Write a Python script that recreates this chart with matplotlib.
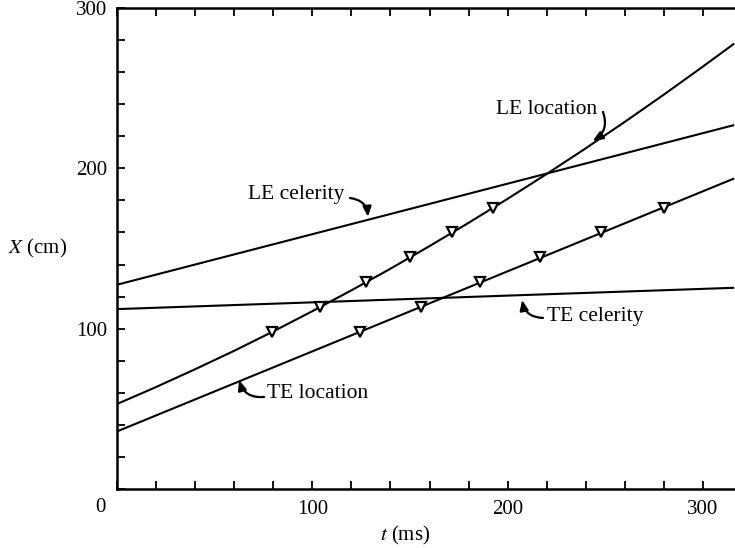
import matplotlib
matplotlib.use("Agg")
import matplotlib.pyplot as plt
from matplotlib.ticker import MultipleLocator, FuncFormatter

plt.rcParams["font.family"] = ["Liberation Serif", "DejaVu Serif"]
plt.rcParams["mathtext.fontset"] = "stix"

# celerity lines and TE location: straight fits, X (cm) at the ends of the span
t_span = [0, 316]
le_celerity = [127.4, 227.0]
te_celerity = [112.2, 125.5]
te_location = [35.9, 193.7]

# LE location: curved trajectory (accelerating leading edge)
le_loc_t = [0, 20, 40, 60, 80, 100, 120, 140, 160, 180, 200, 220, 240, 260, 280, 300, 316]
le_loc_x = [53.0, 63.6, 74.7, 86.2, 98.3, 110.9, 123.9, 137.4, 151.5, 166.0,
            181.0, 196.5, 212.5, 229.0, 246.0, 263.5, 277.8]

# probe stations (cm) and arrival times (ms) of the leading and trailing edges
stations = [98, 113.5, 129, 144.5, 160, 175.5]
le_arrival = [79.5, 104, 127.5, 150, 171.5, 192.5]
te_arrival = [124.4, 155.7, 186, 216.7, 248, 280]

x_labels = [100, 200, 300]
y_labels = [100, 200, 300]

fig = plt.figure(figsize=(7.35, 5.48), dpi=100)
ax = fig.add_axes([117 / 735, 1 - 489 / 548, 1 - 117 / 735, (489 - 8) / 548])

lw = 1.5
kw = dict(color="black", lw=lw, solid_capstyle="butt", zorder=2)
ax.plot(t_span, le_celerity, **kw)
ax.plot(t_span, te_celerity, **kw)
ax.plot(t_span, te_location, **kw)
ax.plot(le_loc_t, le_loc_x, **kw)

mk = dict(marker="v", ms=7, mfc="white", mec="black", mew=1.6, ls="none", zorder=3)
ax.plot(le_arrival, stations, **mk)
ax.plot(te_arrival, stations, **mk)

ax.set_xlim(0, 316.4)
ax.set_ylim(0, 300)
ax.spines["right"].set_visible(False)
for s in ("left", "bottom", "top"):
    ax.spines[s].set_linewidth(1.8)

ax.xaxis.set_major_locator(MultipleLocator(20))
ax.yaxis.set_major_locator(MultipleLocator(20))
ax.xaxis.set_major_formatter(FuncFormatter(
    lambda v, p: f"{int(round(v))}" if round(v) in x_labels else ""))
ax.yaxis.set_major_formatter(FuncFormatter(
    lambda v, p: f"{int(round(v))}" if round(v) in y_labels else ""))
ax.tick_params(axis="both", direction="in", length=6, width=1.3, labelsize=15)
ax.tick_params(axis="x", top=True, labeltop=False, pad=8)
ax.tick_params(axis="y", right=False, pad=7)

ax.text(-0.0275, -0.0395, "0", transform=ax.transAxes, fontsize=15, ha="center", va="center")
ax.set_xlabel(r"$t$ (ms)", fontsize=15, va="center")
ax.xaxis.set_label_coords(0.466, -0.096)
ax.set_ylabel(r"$X$ (cm)", fontsize=15, rotation=0, va="center", ha="center")
ax.yaxis.set_label_coords(-0.128, 0.5)

arrow = dict(arrowstyle="-|>,head_length=0.6,head_width=0.25", color="black", lw=1.6,
             shrinkA=0, shrinkB=0, connectionstyle="arc3,rad=-0.4")
fs = 15.5

ax.text(220, 236.4, "LE location", fontsize=fs, ha="center", va="center")
ax.annotate("", xy=(243.5, 217), xytext=(248.8, 235.2), arrowprops=arrow)

ax.text(91.7, 183.4, "LE celerity", fontsize=fs, ha="center", va="center")
ax.annotate("", xy=(128.5, 169.7), xytext=(119.3, 181.5), arrowprops=arrow)

ax.text(244.8, 107.9, "TE celerity", fontsize=fs, ha="center", va="center")
ax.annotate("", xy=(207.4, 117.9), xytext=(218.1, 106.7), arrowprops=arrow)

ax.text(102.9, 59.3, "TE location", fontsize=fs, ha="center", va="center")
ax.annotate("", xy=(62.5, 68.0), xytext=(75.3, 57.4), arrowprops=arrow)

fig.savefig("out.png", dpi=100)
